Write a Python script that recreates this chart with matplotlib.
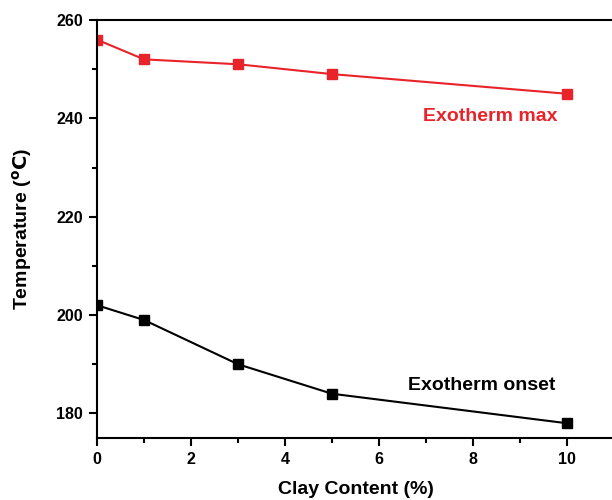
import matplotlib
matplotlib.use('Agg')
import matplotlib.pyplot as plt
from matplotlib.ticker import MultipleLocator

# Data
clay = [0, 1, 3, 5, 10]
exo_max = [256, 252, 251, 249, 245]
exo_onset = [202, 199, 190, 184, 178]

plt.rcParams['font.family'] = ['Liberation Sans', 'DejaVu Sans']
plt.rcParams['font.weight'] = 'bold'

fig = plt.figure(figsize=(6.12, 5.0), dpi=100)
W, H = 612, 500
# axes box in pixels: left 97, top 20, bottom 438, right beyond the figure edge
ax = fig.add_axes([97 / W, (H - 438) / H, (614 - 97) / W, (438 - 20) / H])

ax.plot(clay, exo_max, color='#e8232a', lw=1.5, marker='s', ms=6.5)
ax.plot(clay, exo_onset, color='black', lw=1.5, marker='s', ms=6.5)

ax.set_xlim(0, 11)
ax.set_ylim(175, 260)
ax.xaxis.set_major_locator(MultipleLocator(2))
ax.xaxis.set_minor_locator(MultipleLocator(1))
ax.yaxis.set_major_locator(MultipleLocator(20))
ax.yaxis.set_minor_locator(MultipleLocator(10))
ax.tick_params(which='major', direction='out', length=6, width=1.5, labelsize=11.5, pad=4)
ax.tick_params(which='minor', direction='out', length=3.5, width=1.5)
for s in ax.spines.values():
    s.set_linewidth(1.5)
ax.spines['right'].set_visible(False)

ax.text(8.36, 242.2, 'Exotherm max', color='#e8232a', fontsize=14,
        fontweight='bold', ha='center', va='top')
ax.text(8.19, 187.4, 'Exotherm onset', color='black', fontsize=14,
        fontweight='bold', ha='center', va='top')

ax.set_xlabel('Clay Content (%)', fontsize=14, fontweight='bold', labelpad=10)
ax.set_ylabel('Temperature ($\\mathbf{^{o}C}$)', fontsize=14, fontweight='bold', labelpad=16)

fig.savefig('out.png', dpi=100)
